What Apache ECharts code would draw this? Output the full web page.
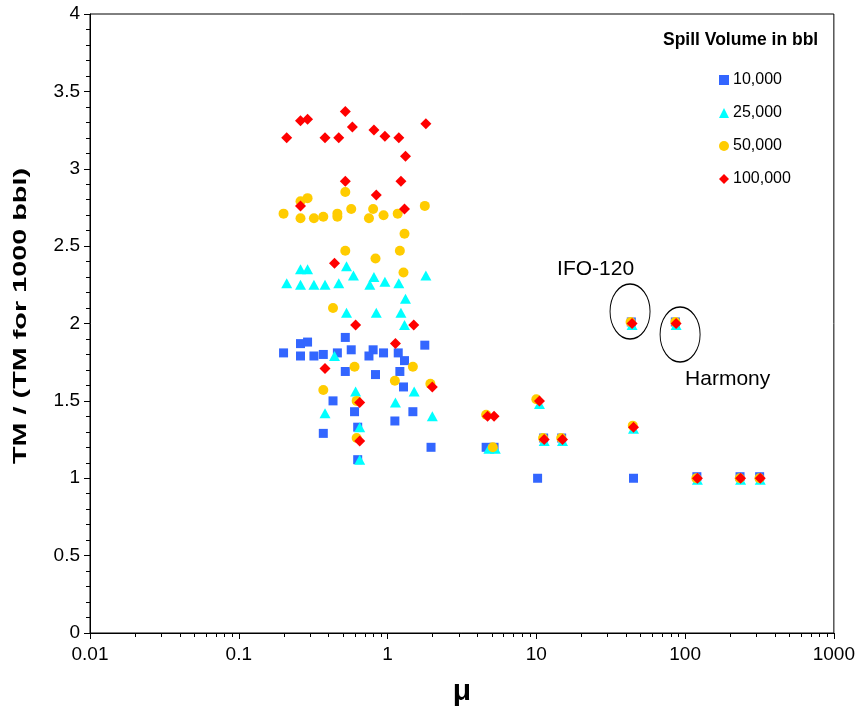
<!DOCTYPE html>
<html>
<head>
<meta charset="utf-8">
<script src="https://cdn.jsdelivr.net/npm/echarts@6/dist/echarts.min.js"></script>
<style>
  html, body { margin: 0; padding: 0; background: #ffffff; }
  #chart { width: 858px; height: 718px; }
</style>
</head>
<body>
<div id="chart"></div>
<script>
// Spill volumes (legend entries)
const volumeNames = ['10,000', '25,000', '50,000', '100,000'];

// 10,000 bbl
const mu10k = [0.20, 0.26, 0.29, 0.26, 0.32, 0.37, 0.46, 0.52, 0.57, 0.80, 0.75, 0.94, 1.18, 1.78, 1.30,
  0.52, 1.21, 0.83, 1.28, 0.43, 0.60, 1.48, 1.12, 0.37, 0.63, 0.63, 1.96,
  4.6, 5.2, 10.2, 11.2, 14.8, 43.5, 45, 86, 120, 234, 317];
const ratio10k = [1.81, 1.87, 1.88, 1.79, 1.79, 1.80, 1.81, 1.91, 1.83, 1.83, 1.79, 1.81, 1.81, 1.86, 1.76,
  1.69, 1.69, 1.67, 1.59, 1.50, 1.43, 1.43, 1.37, 1.29, 1.33, 1.12, 1.20,
  1.20, 1.20, 1.00, 1.26, 1.26, 2.01, 1.00, 2.01, 1.01, 1.01, 1.01];

// 25,000 bbl
const mu25k = [0.26, 0.29, 0.53, 0.59, 0.21, 0.26, 0.32, 0.38, 0.47, 0.81, 0.76, 0.96, 1.19, 1.81, 1.32,
  0.53, 0.84, 1.23, 1.30, 0.44, 0.61, 1.51, 1.13, 0.38, 2.00, 0.65, 0.65,
  4.8, 5.3, 10.5, 11.3, 15, 44, 45, 87, 121, 236, 320];
const ratio25k = [2.35, 2.35, 2.37, 2.31, 2.26, 2.25, 2.25, 2.25, 2.26, 2.30, 2.25, 2.27, 2.26, 2.31, 2.16,
  2.07, 2.07, 2.07, 1.99, 1.79, 1.56, 1.56, 1.49, 1.42, 1.40, 1.33, 1.12,
  1.19, 1.19, 1.48, 1.24, 1.24, 1.99, 1.32, 1.99, 0.99, 0.99, 0.99];

// 50,000 bbl
const mu50k = [0.20, 0.26, 0.29, 0.26, 0.32, 0.37, 0.46, 0.46, 0.52, 0.57, 0.75, 0.80, 0.94, 1.17, 1.78, 1.30,
  0.52, 1.21, 0.83, 1.28, 0.43, 0.60, 1.48, 1.12, 0.37, 1.94, 0.62, 0.62,
  4.6, 5.1, 10.0, 11.1, 14.7, 43, 44.5, 86, 119, 233, 316];
const ratio50k = [2.71, 2.79, 2.81, 2.68, 2.68, 2.69, 2.71, 2.69, 2.85, 2.74, 2.68, 2.74, 2.70, 2.71, 2.76, 2.58,
  2.47, 2.47, 2.42, 2.33, 2.10, 1.72, 1.72, 1.63, 1.57, 1.61, 1.50, 1.26,
  1.41, 1.20, 1.51, 1.26, 1.26, 2.01, 1.34, 2.01, 1.00, 1.00, 1.00];

// 100,000 bbl
const mu100k = [0.21, 0.26, 0.29, 0.38, 0.47, 0.52, 0.58, 0.81, 0.96, 1.19, 1.81, 1.32,
  0.52, 1.23, 0.84, 0.26, 1.30, 0.44, 0.61, 1.50, 1.13, 0.38, 2.00, 0.65, 0.65,
  4.7, 5.2, 10.5, 11.3, 15, 44, 45, 87, 121, 236, 320];
const ratio100k = [3.20, 3.31, 3.32, 3.20, 3.20, 3.37, 3.27, 3.25, 3.21, 3.20, 3.29, 3.08,
  2.92, 2.92, 2.83, 2.76, 2.74, 2.39, 1.99, 1.99, 1.87, 1.71, 1.59, 1.49, 1.24,
  1.40, 1.40, 1.50, 1.25, 1.25, 2.00, 1.33, 2.00, 1.00, 1.00, 1.00];

// Labelled oils
const oilNames = ['IFO-120', 'Harmony'];
const oilMu = [44, 87];
const oilRatio = [2.0, 2.0];

// Axis ticks and titles
const xTickLabels = ['0.01', '0.1', '1', '10', '100', '1000'];
const yTickLabels = ['0', '0.5', '1', '1.5', '2', '2.5', '3', '3.5', '4'];
const xTitle = 'μ';
const yTitle = 'TM / (TM for 1000 bbl)';
const legendTitle = 'Spill Volume in bbl';

const FONT = '"Liberation Sans", Arial, Helvetica, sans-serif';

const toPoints = (xs, ys) => xs.map((x, i) => [x, ys[i]]);
const seriesPoints = [toPoints(mu10k, ratio10k), toPoints(mu25k, ratio25k),
  toPoints(mu50k, ratio50k), toPoints(mu100k, ratio100k)];

const markerLook = [
  { symbol: 'rect', size: 9, color: '#3366FF' },
  { symbol: 'triangle', size: [11, 10], color: '#00FFFF' },
  { symbol: 'circle', size: 10, color: '#FFCC00' },
  { symbol: 'diamond', size: [11, 11], color: '#FF0000' }
];

// minor ticks of the log axis: 2..9 within each decade
const minorTickValues = [];
for (let e = -2; e < 3; e++) {
  for (let m = 2; m <= 9; m++) minorTickValues.push(m * Math.pow(10, e));
}

// ellipse and label placement around each labelled oil (pixel offsets)
const oilDecor = {
  'IFO-120': { ellipse: [-2, -12], label: [-75, -54] },
  'Harmony': { ellipse: [4, 11], label: [9, 56] }
};

const scatterSeries = volumeNames.map((name, i) => ({
  name: name,
  type: 'scatter',
  data: seriesPoints[i],
  symbol: markerLook[i].symbol,
  symbolSize: markerLook[i].size,
  itemStyle: { color: markerLook[i].color, opacity: 1 },
  emphasis: { disabled: true },
  z: 3 + i
}));

const option = {
  animation: false,
  backgroundColor: '#ffffff',
  textStyle: { fontFamily: FONT },
  grid: { left: 90, right: 19, top: 14, bottom: 85, show: true, borderColor: '#000', borderWidth: 1, backgroundColor: 'transparent' },
  legend: {
    data: volumeNames,
    orient: 'vertical',
    left: 714,
    top: 67,
    itemWidth: 10,
    itemHeight: 10,
    itemGap: 17,
    textStyle: { fontFamily: FONT, fontSize: 16, color: '#000', padding: [0, 0, 0, -1] },
    selectedMode: false
  },
  xAxis: {
    type: 'log',
    logBase: 10,
    min: 0.01,
    max: 1000,
    name: xTitle,
    nameLocation: 'middle',
    nameGap: 44,
    nameTextStyle: { fontFamily: FONT, fontSize: 30, fontWeight: 'bold', color: '#000' },
    axisLine: { lineStyle: { color: '#000', width: 1 } },
    axisTick: { show: true, length: 6, lineStyle: { color: '#000' } },
    axisLabel: {
      fontFamily: FONT, fontSize: 19, color: '#000', margin: 12,
      formatter: (v) => {
        const idx = Math.round(Math.log10(v)) + 2;
        return xTickLabels[idx] !== undefined ? xTickLabels[idx] : '';
      }
    },
    splitLine: { show: false }
  },
  yAxis: {
    type: 'value',
    min: 0,
    max: 4,
    interval: 0.5,
    axisLine: { show: true, lineStyle: { color: '#000', width: 1 } },
    axisTick: { show: true, length: 6, lineStyle: { color: '#000' } },
    minorTick: { show: true, splitNumber: 5, length: 4, lineStyle: { color: '#000' } },
    axisLabel: {
      fontFamily: FONT, fontSize: 19, color: '#000', margin: 10,
      formatter: (v) => {
        const idx = Math.round(v * 2);
        return yTickLabels[idx] !== undefined ? yTickLabels[idx] : '';
      }
    },
    splitLine: { show: false }
  },
  graphic: [
    {
      // legend heading
      type: 'text',
      left: 663,
      top: 31,
      style: { text: legendTitle, fontFamily: FONT, fontSize: 17.5, fontWeight: 'bold', fill: '#000' }
    },
    {
      // vertical axis title, drawn wide along its reading direction
      type: 'text',
      x: 21,
      y: 316,
      rotation: Math.PI / 2,
      scaleX: 1.6,
      style: { text: yTitle, fontFamily: FONT, fontSize: 18, fontWeight: 'bold', fill: '#000', align: 'center', verticalAlign: 'middle' }
    }
  ],
  series: [
    {
      type: 'custom',
      name: 'log minor ticks',
      silent: true,
      clip: false,
      z: 1,
      data: minorTickValues.map(v => [v, 0]),
      renderItem: (params, api) => {
        const p = api.coord([api.value(0), 0]);
        const x = Math.round(p[0]) + 0.5;
        return {
          type: 'line',
          shape: { x1: x, y1: p[1], x2: x, y2: p[1] + 4 },
          style: { stroke: '#000', lineWidth: 1 }
        };
      }
    },
    ...scatterSeries,
    {
      type: 'custom',
      name: 'labelled oils',
      silent: true,
      clip: false,
      z: 10,
      data: oilNames.map((n, i) => [oilMu[i], oilRatio[i]]),
      renderItem: (params, api) => {
        const name = oilNames[params.dataIndex];
        const d = oilDecor[name];
        const p = api.coord([api.value(0), api.value(1)]);
        return {
          type: 'group',
          children: [
            {
              type: 'circle',
              x: p[0] + d.ellipse[0],
              y: p[1] + d.ellipse[1],
              scaleX: 20 / 27.5,
              shape: { cx: 0, cy: 0, r: 27.5 },
              style: { fill: 'none', stroke: '#000', lineWidth: 1.3 }
            },
            {
              type: 'text',
              x: p[0] + d.label[0],
              y: p[1] + d.label[1],
              style: { text: name, fontFamily: FONT, fontSize: 21, fill: '#000', align: 'left', verticalAlign: 'middle' }
            }
          ]
        };
      }
    }
  ]
};

const chart = echarts.init(document.getElementById('chart'), null, { renderer: 'canvas' });
chart.setOption(option);
</script>
</body>
</html>
